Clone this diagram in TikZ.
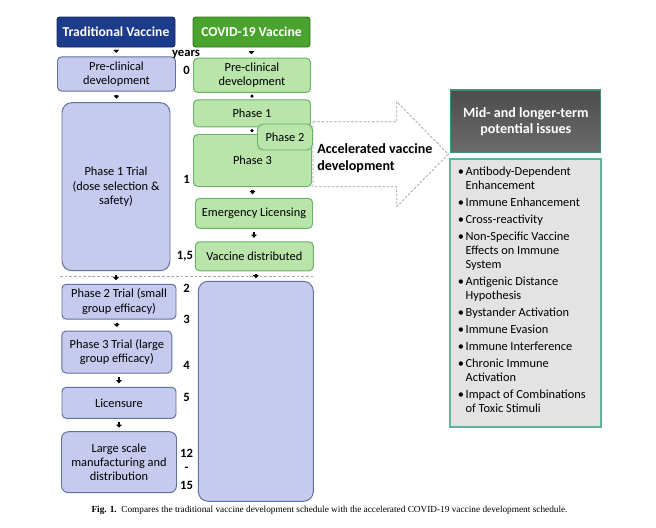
\documentclass[tikz,border=0pt]{standalone}
\usepackage{fontspec}
\setmainfont{Carlito}
\newfontfamily\capfont{Liberation Serif}
\usetikzlibrary{arrows.meta}
\definecolor{navy}{HTML}{1D3B8B}
\definecolor{navyline}{HTML}{12275C}
\definecolor{leaf}{HTML}{4BA32F}
\definecolor{leafline}{HTML}{2E7420}
\definecolor{lav}{HTML}{C6CAEE}
\definecolor{lavline}{HTML}{5F729E}
\definecolor{mint}{HTML}{B9E4AA}
\definecolor{mintline}{HTML}{68B465}
\definecolor{teal}{HTML}{3F9276}
\definecolor{tealsoft}{HTML}{5DB596}
\newlength\pxu
\setlength\pxu{0.025cm}
\tikzset{
  tvhead/.style={rectangle, rounded corners=2pt, draw=navyline, fill=navy, line width=0.7pt,
    text=white, font=\fontsize{9.7}{11}\selectfont\bfseries},
  cvhead/.style={tvhead, draw=leafline, fill=leaf},
  tvbox/.style={rectangle, rounded corners=3pt, draw=lavline, fill=lav, line width=0.7pt,
    align=center, font=\fontsize{8.8}{10.2}\selectfont},
  cvbox/.style={tvbox, draw=mintline, fill=mint},
  yr/.style={inner sep=0pt, font=\fontsize{9}{10}\selectfont\bfseries},
  tick/.style={line width=1.8pt, -{Triangle[length=2.2pt,width=4pt]},
    shorten <=3.5\pxu, shorten >=3.5\pxu},
  dot/.style={circle, fill=black, inner sep=0pt, minimum size=2.6pt},
  accarrow/.style={draw=gray!75, dashed, dash pattern=on 1.8pt off 1.2pt, line width=0.5pt, fill=white},
  >=Stealth
}

\begin{document}
\begin{tikzpicture}[x=0.025cm, y=-0.025cm]
  \useasboundingbox (0,0) rectangle (656,527);
  % Accelerated development arrow
  \draw[accarrow] (313,121.7) -- (396.7,121.7) -- (396.7,101.7) -- (448.3,154.2)
    -- (396.7,206.7) -- (396.7,186.7) -- (313,186.7) -- cycle;
  \node[inner sep=0pt, anchor=west, align=left, font=\fontsize{10}{12}\selectfont\bfseries]
    (accel) at (317,158.5) {Accelerated vaccine\\development};
  % Traditional vaccine
  \node[tvhead, minimum width=118\pxu, minimum height=30\pxu] (tvh) at (116,32) {Traditional Vaccine};
  \node[tvbox, minimum width=118\pxu, minimum height=32\pxu] (tv0) at (116.5,74) {Pre-clinical\\development};
  \node[tvbox, rounded corners=7pt, minimum width=108\pxu, minimum height=168\pxu] (tv1) at (116,186.7)
    {Phase 1 Trial\\(dose selection \&\\safety)};
  \node[tvbox, minimum width=114\pxu, minimum height=33\pxu] (tv2) at (119,301.7) {Phase 2 Trial (small\\group efficacy)};
  \node[tvbox, minimum width=110\pxu, minimum height=42\pxu] (tv3) at (116.8,352) {Phase 3 Trial (large\\group efficacy)};
  \node[tvbox, minimum width=114\pxu, minimum height=31\pxu] (tv4) at (119,402.8) {Licensure};
  \node[tvbox, rounded corners=5pt, minimum width=115\pxu, minimum height=61\pxu] (tv5) at (119,462.2)
    {Large scale\\manufacturing and\\distribution};
  % COVID-19 vaccine
  \node[cvhead, minimum width=117\pxu, minimum height=30\pxu] (cvh) at (251.5,32) {COVID-19 Vaccine};
  \node[cvbox, minimum width=117\pxu, minimum height=31\pxu] (cv0) at (252,75.3) {Pre-clinical\\development};
  \node[cvbox, minimum width=117\pxu, minimum height=27\pxu] (cv1) at (252,113.3) {Phase 1};
  \node[cvbox, minimum width=118\pxu, minimum height=52\pxu] (cv3) at (252.5,160.5) {Phase 3};
  \node[cvbox, rounded corners=4pt, minimum width=55\pxu, minimum height=26\pxu] (cv2) at (285,137) {Phase 2};
  \node[cvbox, minimum width=117\pxu, minimum height=30\pxu] (cv4) at (254,213.3) {Emergency Licensing};
  \node[cvbox, minimum width=118\pxu, minimum height=29\pxu] (cv5) at (254.3,256.3) {Vaccine distributed};
  \node[tvbox, rounded corners=7pt, minimum width=115\pxu, minimum height=220\pxu] (cv6) at (255.8,391.3) {};
  % time line
  \coordinate (dl) at (60,276);
  \coordinate (dr) at (313.3,276);
  \draw[gray!70, dashed, dash pattern=on 2pt off 1.3pt, line width=0.6pt] (dl) -- (dr);
  \node[yr] (yrs) at (186,54) {years};
  \node[yr] (y0) at (186.5,70.5) {0};
  \node[yr] (y1) at (186.5,179.3) {1};
  \node[yr] (y15) at (185,256.7) {1,5};
  \node[yr] (y2) at (186.5,288.3) {2};
  \node[yr] (y3) at (186.5,319) {3};
  \node[yr] (y4) at (186.5,365.7) {4};
  \node[yr] (y5) at (186.5,397.7) {5};
  \node[yr] (y12) at (186.5,453) {12};
  \node[yr] (ydash) at (186.5,469) {-};
  \node[yr] (y15b) at (186.5,485) {15};
  % markers
  \draw[tick] (tvh) -- (tv0);
  \draw[tick] (tv0) -- (tv1);
  \draw[tick] (tv1) -- (tv1.south |- tv2.north);
  \draw[tick] (tv2.south -| tv3.north) -- (tv3);
  \draw[tick] (tv3.south -| tv4.north) -- (tv4);
  \draw[tick] (tv4) -- (tv5);
  \draw[tick] (cvh) -- (cvh.south |- cv0.north);
  \path (cv0.south) -- node[dot] {} (cv0.south |- cv1.north);
  \path (cv1.south) -- node[dot] {} (cv1.south |- cv3.north);
  \draw[tick] (cv3.south) -- (cv3.south |- cv4.north);
  \draw[tick] (cv4) -- (cv4.south |- cv5.north);
  \draw[tick, shorten <=2.5\pxu, shorten >=2.5\pxu] (cv5.south -| cv6.north) -- (cv6);
  % Issues
  \node[rectangle, draw=teal, line width=0.9pt, top color=black!70, bottom color=black!58,
    minimum width=150\pxu, minimum height=62.7\pxu, text=white, align=center,
    font=\fontsize{10}{11.4}\selectfont\bfseries] (mid) at (525.8,121.3) {Mid- and longer-term\\potential issues};
  \node[rectangle, draw=tealsoft, line width=1.1pt, fill=black!11,
    minimum width=151\pxu, minimum height=268\pxu] (list) at (525.5,293) {};
  \node[anchor=north west, inner sep=0pt, font=\fontsize{8.8}{10}\selectfont] (items) at (457.5,165)
    {\begin{tabular}{@{}l@{\hspace{1.2pt}}l@{}}
      \textbullet & Antibody-Dependent\\ & Enhancement\\[2.1pt]
      \textbullet & Immune Enhancement\\[2.1pt]
      \textbullet & Cross-reactivity\\[2.1pt]
      \textbullet & Non-Specific Vaccine\\ & Effects on Immune\\ & System\\[2.1pt]
      \textbullet & Antigenic Distance\\ & Hypothesis\\[2.1pt]
      \textbullet & Bystander Activation\\[2.1pt]
      \textbullet & Immune Evasion\\[2.1pt]
      \textbullet & Immune Interference\\[2.1pt]
      \textbullet & Chronic Immune\\ & Activation\\[2.1pt]
      \textbullet & Impact of Combinations\\ & of Toxic Stimuli
    \end{tabular}};
  % caption
  \node[font=\capfont\fontsize{6.6}{8}\selectfont] (cap) at (329.5,510)
    {\textbf{Fig. 1.}\ \ Compares the traditional vaccine development schedule with the accelerated COVID-19 vaccine development schedule.};
\end{tikzpicture}
\end{document}
